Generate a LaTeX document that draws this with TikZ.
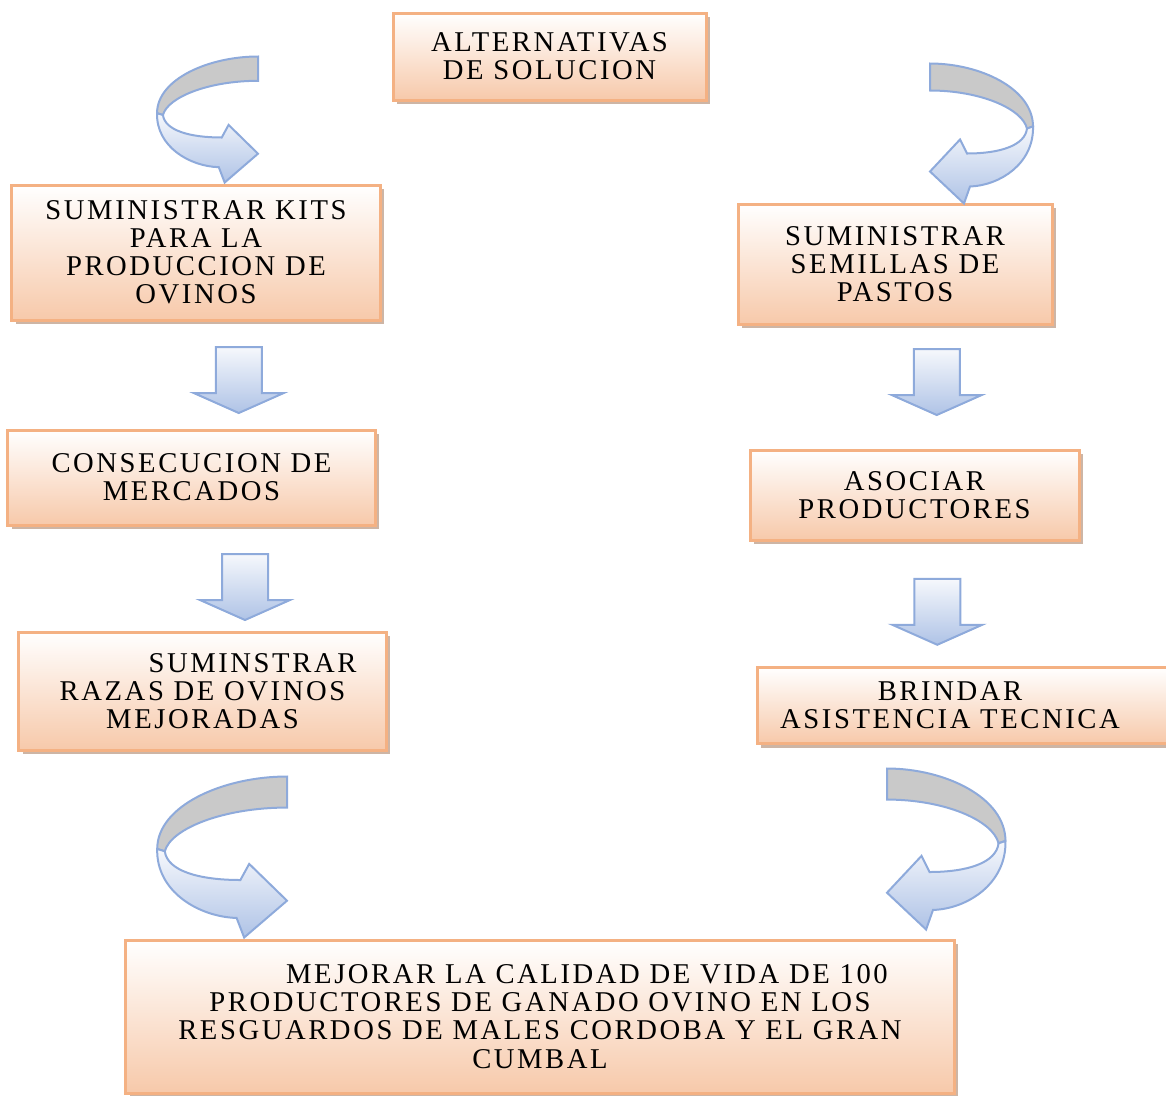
\documentclass[tikz,border=0pt]{standalone}
\usepackage{fontspec}
\usepackage{tikz}
\usetikzlibrary{calc, shadows}
\newfontfamily\boxfont{Liberation Serif}[LetterSpace=9]
\definecolor{boxline}{HTML}{F4B183}
\definecolor{boxpeach}{HTML}{F7C9AA}
\definecolor{boxshadow}{HTML}{CDB5A5}
\definecolor{arrowline}{HTML}{8EAADB}
\definecolor{arrowlight}{HTML}{F6F8FC}
\definecolor{arrowblue}{HTML}{AFC3E6}
\definecolor{backgray}{HTML}{C9C9C9}
\tikzset{%
	every box/.style={
		rectangle,
		draw=boxline,
		line width=0.6mm,
		top color=white,
		bottom color=boxpeach,
		drop shadow={shadow xshift=0.8mm, shadow yshift=-0.8mm, fill=boxshadow, opacity=1},
		align=center,
		inner sep=0pt,
		font=\boxfont\fontsize{16.3}{16}\selectfont
	},
	down block/.pic={
		\draw[arrowline, line width=0.4mm, top color=arrowlight, bottom color=arrowblue]
			(-23,-33) -- (23,-33) -- (23,13) -- (45,13) -- (0,33) -- (-45,13) -- (-23,13) -- cycle;
	},
	turn arrow/.pic={
		% back side of the band
		\draw[arrowline, line width=0.4mm, fill=backgray]
			(0,0) .. controls (50,0) and (103,25) .. (103,63)
			-- (97,65) .. controls (92,45) and (50,27) .. (0,27) -- cycle;
		% front side with the head
		\draw[arrowline, line width=0.4mm, top color=arrowlight, bottom color=arrowblue]
			(103,63) .. controls (104,100) and (70,122) .. (40,123)
			-- (34,140) -- (0,108) -- (30,76) -- (37,90)
			.. controls (70,90) and (95,82) .. (97,65) -- cycle;
	},
}
\begin{document}
\begin{tikzpicture}[x=0.2mm, y=-0.2mm]
	\useasboundingbox (0,0) rectangle (1166,1095);

	\node[every box, minimum width=62.6mm, minimum height=17.4mm] (alt) at (549.5,56.5) {ALTERNATIVAS\\DE SOLUCION};

	\node[every box, minimum width=73.6mm, minimum height=27mm] (kits) at (196,252.5) {SUMINISTRAR KITS\\PARA LA\\PRODUCCION DE\\OVINOS};
	\node[every box, minimum width=73.4mm, minimum height=19mm] (mercados) at (191.5,477.5) {CONSECUCION DE\\MERCADOS};
	\node[every box, minimum width=73.4mm, minimum height=23.6mm] (razas) at (202.5,691) {\hspace*{20mm}SUMINSTRAR\\RAZAS DE OVINOS\\MEJORADAS};

	\node[every box, minimum width=62.8mm, minimum height=24mm] (semillas) at (895,264) {SUMINISTRAR\\SEMILLAS DE\\PASTOS};
	\node[every box, minimum width=65.8mm, minimum height=18mm] (asociar) at (914.5,495) {ASOCIAR\\PRODUCTORES};
	\node[every box, minimum width=83.6mm, minimum height=15.2mm] (asistencia) at (966,705.5) {BRINDAR\hspace*{6.4mm}\\ASISTENCIA TECNICA\hspace*{6.4mm}};

	\node[every box, minimum width=165.6mm, minimum height=30.6mm] (mejorar) at (540,1016.5) {\hspace*{18.8mm}MEJORAR LA CALIDAD DE VIDA DE 100\\PRODUCTORES DE GANADO OVINO EN LOS\\RESGUARDOS DE MALES CORDOBA Y EL GRAN\\CUMBAL};

	\pic[xscale=-0.98, yscale=0.9] at ($(kits.north)+(62,-127)$) {turn arrow};
	\pic at ($(semillas.north)+(35,-139)$) {turn arrow};

	\pic at ($(kits.south)!0.5!(mercados.north)+(45,5)$) {down block};
	\pic at ($(mercados.south)!0.5!(razas.north)+(48,8.5)$) {down block};
	\pic at ($(semillas.south)!0.5!(asociar.north)+(32,-5)$) {down block};
	\pic at ($(asociar.south)!0.5!(asistencia.north)+(-3,8)$) {down block};

	\pic[xscale=-1.26, yscale=1.15] at ($(mejorar.north)+(-253,-162)$) {turn arrow};
	\pic[scale=1.15] at ($(mejorar.north)+(347,-170)$) {turn arrow};

\end{tikzpicture}
\end{document}
